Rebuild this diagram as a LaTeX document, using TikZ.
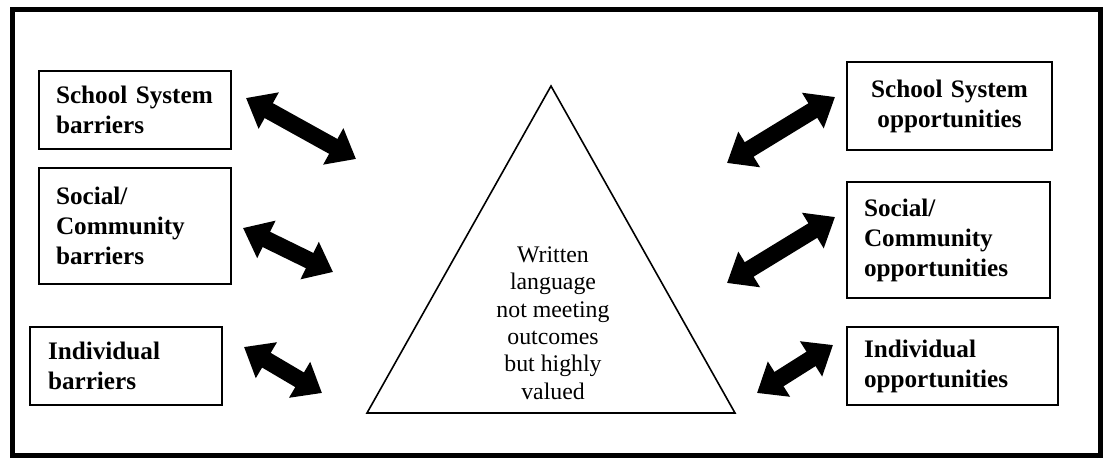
\documentclass[tikz,border=0pt]{standalone}
\usepackage{fontspec}
\setmainfont{Liberation Serif}
\usetikzlibrary{arrows.meta}
\begin{document}
\begin{tikzpicture}[x=0.5pt,y=-0.5pt,
  lbox/.style={draw,line width=1pt,inner xsep=8.5pt,inner ysep=0pt,align=left,
    font=\fontsize{12.6pt}{15pt}\selectfont\bfseries},
  cbox/.style={draw,line width=1pt,inner xsep=4pt,inner ysep=0pt,align=center,
    font=\fontsize{12.6pt}{15pt}\selectfont\bfseries},
  bigarrow/.style={line width=8.5pt,
    {Triangle[length=13pt,width=20pt]}-{Triangle[length=13pt,width=20pt]}},
  tritext/.style={align=center,inner sep=0pt,font=\fontsize{11.9pt}{13.7pt}\selectfont}]
\useasboundingbox (0,0) rectangle (1107,460);
\fill[white] (0,0) rectangle (1107,460);
\draw[line width=2.5pt] (12,10) rectangle (1100,455);
% left boxes
\node[lbox,text width=79pt,minimum height=39pt] (sb) at (135,110) {School System\\barriers};
\node[lbox,text width=79pt,minimum height=58pt] (cb) at (135,226) {Social/\\Community\\barriers};
\node[lbox,inner xsep=9pt,text width=78pt,minimum height=39pt] (ib) at (126,366) {Individual\\barriers};
% right boxes
\node[cbox,text width=94.5pt,minimum height=44pt] (so) at (949.5,106) {School System\\opportunities};
\node[lbox,text width=84.5pt,minimum height=58pt] (co) at (948.5,240) {Social/\\Community\\opportunities};
\node[lbox,text width=88.5pt,minimum height=39pt] (io) at (952.5,366) {Individual\\opportunities};
% triangle
\coordinate (apex) at (551,86);
\coordinate (bl) at (367,413);
\coordinate (br) at (735,413);
\draw[line width=0.8pt,line join=miter] (apex) -- (br) -- (bl) -- cycle;
\node[tritext] (tri) at (553,323) {Written\\language\\not meeting\\outcomes\\but highly\\valued};
% arrow ends
\coordinate (l1a) at (246,98);  \coordinate (l1b) at (356,159);
\coordinate (l2a) at (243,228); \coordinate (l2b) at (333,272);
\coordinate (l3a) at (244,347); \coordinate (l3b) at (322,393);
\coordinate (r1a) at (727,163); \coordinate (r1b) at (835,97);
\coordinate (r2a) at (727,283); \coordinate (r2b) at (835,217);
\coordinate (r3a) at (757,393); \coordinate (r3b) at (833,345);
\draw[bigarrow] (l1a) -- (l1b);
\draw[bigarrow] (l2a) -- (l2b);
\draw[bigarrow] (l3a) -- (l3b);
\draw[bigarrow] (r1a) -- (r1b);
\draw[bigarrow] (r2a) -- (r2b);
\draw[bigarrow] (r3a) -- (r3b);
\end{tikzpicture}
\end{document}
